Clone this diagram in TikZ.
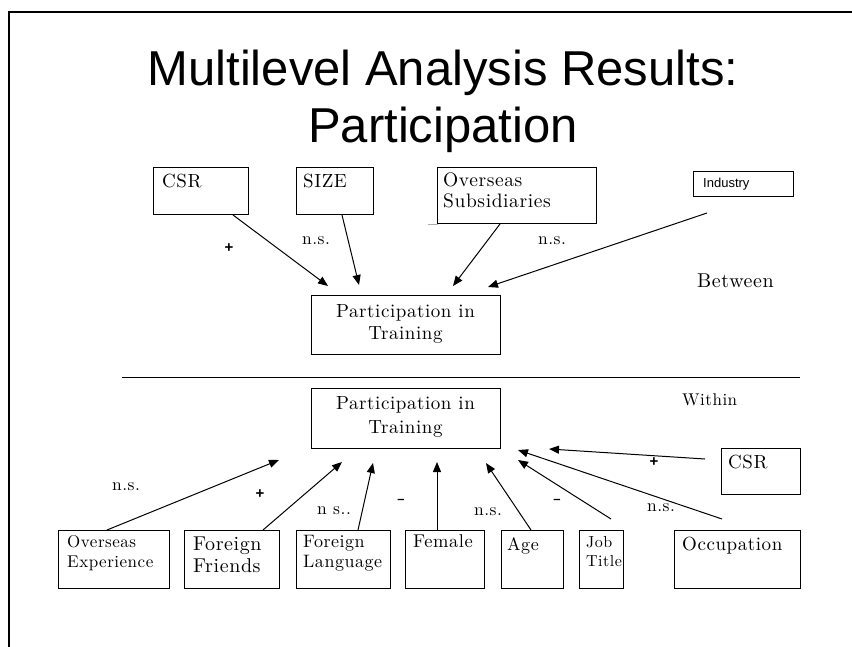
\documentclass[tikz,border=0pt]{standalone}
\usepackage{fontspec}
\newfontfamily\arialfont{Liberation Sans}
\newfontfamily\lmfont{lmroman10-regular.otf}[LetterSpace=3]
\newcommand\rsz[1]{\lmfont\fontsize{#1}{#1}\selectfont}
\usetikzlibrary{arrows.meta,calc}
\begin{document}
\begin{tikzpicture}[x=1pt,y=-1pt,
  box/.style={draw, line width=1pt, rectangle, inner sep=0pt, anchor=north west},
  txt/.style={anchor=base west, inner sep=0pt, font=\rsz{19}},
  ctr/.style={anchor=base, inner sep=0pt, font=\rsz{19}},
  ttl/.style={anchor=base, inner sep=0pt, font=\arialfont\fontsize{49}{56}\selectfont},
  arr/.style={-{Triangle[length=10pt,width=8pt]}, line width=1pt},
  lbl/.style={inner sep=0pt, font=\rsz{17.5}},
  sign/.style={inner sep=0pt, font=\arialfont\bfseries\fontsize{15}{18}\selectfont},
  msign/.style={inner sep=0pt, font=\arialfont\bfseries\fontsize{13}{15}\selectfont}]
\useasboundingbox (0,0) rectangle (852,647);
% frame
\draw[line width=2pt] (9,647) -- (9,12) -- (852,12);
% title
\node[ttl] (t1) at (443,86) {Multilevel Analysis Results:};
\node[ttl] (t2) at (443,143) {Participation};
% top row
\node[box, minimum width=95pt, minimum height=47pt] (csr) at (153,167) {};
\node[txt] (csrT) at (162,188) {CSR};
\node[box, minimum width=77pt, minimum height=47pt] (size) at (296,167) {};
\node[txt] (sizeT) at (303,188) {SIZE};
\node[box, minimum width=159pt, minimum height=56pt] (osub) at (437,167) {};
\node[txt, font=\rsz{19.5}] (osubA) at (443,187) {Overseas};
\node[txt, font=\rsz{19.5}] (osubB) at (443,208) {Subsidiaries};
\node[box, minimum width=100pt, minimum height=25pt] (ind) at (693,171) {};
\node[anchor=base west, inner sep=0pt, font=\arialfont\fontsize{13}{15}\selectfont] (indT) at (703,188) {Industry};
\node[box, minimum width=189pt, minimum height=59pt] (pt1) at (311,295) {};
\node[ctr] (pt1a) at (405.5,317) {Participation in};
\node[ctr] (pt1b) at (405.5,339) {Training};
% top arrows
\coordinate (e1) at (328,286);
\coordinate (e2) at (359,285);
\coordinate (e3) at (453,286);
\coordinate (e4) at (488,287);
\coordinate (s4) at (707,213);
\draw[arr] ($(csr.south west)+(80,0)$) -- (e1);
\draw[arr] ($(size.south west)+(46,0)$) -- (e2);
\draw[arr] ($(osub.south west)+(63,0)$) -- (e3);
\draw[arr] (s4) -- (e4);
% top labels
\node[sign] (p1) at (229,248) {+};
\node[lbl] (ns1) at (316,241) {n.s.};
\node[inner sep=0pt, font=\fontsize{21}{21}\selectfont] (m1) at (433,228) {–};
\node[lbl] (ns2) at (552,241) {n.s.};
\node[txt, font=\rsz{20}] (betw) at (697,288) {Between};
% divider
\draw[line width=1pt] (122,377) -- (800,377);
% bottom
\node[box, minimum width=189pt, minimum height=60pt] (pt2) at (311,388) {};
\node[ctr] (pt2a) at (405.5,409) {Participation in};
\node[ctr] (pt2b) at (405.5,433) {Training};
\node[txt, font=\rsz{17}] (within) at (682,405) {Within};
\node[box, minimum width=111pt, minimum height=58pt] (oexp) at (58,530) {};
\node[txt, font=\rsz{17}] (oexpA) at (67,547) {Overseas};
\node[txt, font=\rsz{17}] (oexpB) at (67,567) {Experience};
\node[box, minimum width=95pt, minimum height=58pt] (ffr) at (184,530) {};
\node[txt, font=\rsz{20}] (ffrA) at (193,550) {Foreign};
\node[txt, font=\rsz{20}] (ffrB) at (193,572) {Friends};
\node[box, minimum width=94pt, minimum height=58pt] (flang) at (296,530) {};
\node[txt, font=\rsz{18}] (flangA) at (303,547) {Foreign};
\node[txt, font=\rsz{18}] (flangB) at (303,567) {Language};
\node[box, minimum width=79pt, minimum height=58pt] (fem) at (405,530) {};
\node[txt, font=\rsz{18.5}] (femT) at (413,547) {Female};
\node[box, minimum width=62pt, minimum height=58pt] (age) at (501,530) {};
\node[txt, font=\rsz{18}] (ageT) at (507,550) {Age};
\node[box, minimum width=44pt, minimum height=58pt] (job) at (579,530) {};
\node[txt, font=\rsz{16}] (jobA) at (586,547) {Job};
\node[txt, font=\rsz{16}] (jobB) at (586,566) {Title};
\node[box, minimum width=126pt, minimum height=58pt] (occ) at (674,530) {};
\node[txt] (occT) at (682,550) {Occupation};
\node[box, minimum width=79pt, minimum height=46pt] (csr2) at (721,448) {};
\node[txt] (csr2T) at (728,468) {CSR};
% bottom arrows
\coordinate (f1) at (279,460);
\coordinate (f2) at (342,462);
\coordinate (f3) at (373,463);
\coordinate (f4) at (437,462);
\coordinate (f5) at (486,463);
\coordinate (f6) at (518,460);
\coordinate (f7) at (518,450);
\coordinate (f8) at (549,449);
\coordinate (g6) at (611,519);
\coordinate (g7) at (722,519);
\coordinate (g8) at (705,459);
\draw[arr] ($(oexp.north west)+(49,0)$) -- (f1);
\draw[arr] ($(ffr.north west)+(79,0)$) -- (f2);
\draw[arr] ($(flang.north west)+(62,0)$) -- (f3);
\draw[arr] ($(fem.north west)+(32,0)$) -- (f4);
\draw[arr] ($(age.north west)+(30,0)$) -- (f5);
\draw[arr] (g6) -- (f6);
\draw[arr] (g7) -- (f7);
\draw[arr] (g8) -- (f8);
% bottom labels
\node[lbl] (ns3) at (126,487) {n.s.};
\node[sign] (p2) at (260,494) {+};
\node[lbl] (ns4) at (334,511) {n s..};
\node[msign] (m2) at (401,501) {–};
\node[lbl] (ns5) at (488,512) {n.s.};
\node[msign] (m3) at (557,501) {–};
\node[lbl] (ns6) at (661,508) {n.s.};
\node[sign] (p3) at (654,462) {+};
\end{tikzpicture}
\end{document}
